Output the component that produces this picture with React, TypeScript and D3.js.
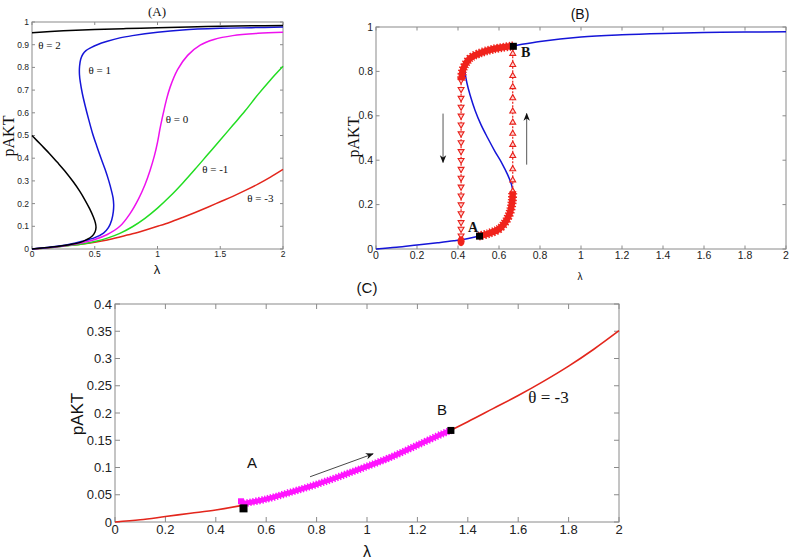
import React, { useEffect, useRef } from 'react';
import * as d3 from 'd3';

type Pt = [number, number];

// ---- panel A: pAKT vs lambda for several theta ----
const thetaTwoUpper: Pt[] = [[0, 0.953], [0.25, 0.961], [0.5, 0.967], [0.75, 0.971], [1, 0.975], [1.25, 0.978], [1.5, 0.981], [1.75, 0.983], [2, 0.985]];
const thetaTwoLower: Pt[] = [[0, 0.5], [0.07, 0.46], [0.14, 0.42], [0.2, 0.383], [0.26, 0.345], [0.33, 0.295], [0.38, 0.255], [0.42, 0.218], [0.46, 0.177], [0.49, 0.14], [0.505, 0.115], [0.51, 0.095], [0.502, 0.075], [0.478, 0.056], [0.435, 0.041], [0.38, 0.028], [0.3, 0.019], [0.2, 0.011], [0.1, 0.005], [0, 0]];
const thetaOne: Pt[] = [[0, 0], [0.1, 0.005], [0.2, 0.012], [0.3, 0.021], [0.4, 0.034], [0.5, 0.05], [0.57, 0.07], [0.61, 0.095], [0.635, 0.128], [0.648, 0.165], [0.651, 0.195], [0.646, 0.225], [0.634, 0.255], [0.612, 0.3], [0.583, 0.35], [0.55, 0.4], [0.515, 0.455], [0.482, 0.51], [0.452, 0.57], [0.424, 0.63], [0.401, 0.685], [0.385, 0.735], [0.378, 0.77], [0.379, 0.805], [0.388, 0.836], [0.405, 0.858], [0.43, 0.874], [0.47, 0.887], [0.52, 0.9], [0.6, 0.915], [0.7, 0.93], [0.8, 0.94], [1, 0.955], [1.2, 0.965], [1.5, 0.972], [1.75, 0.975], [2, 0.978]];
const thetaZero: Pt[] = [[0, 0], [0.1, 0.004], [0.2, 0.01], [0.3, 0.018], [0.4, 0.028], [0.5, 0.042], [0.6, 0.064], [0.7, 0.1], [0.78, 0.155], [0.85, 0.222], [0.9, 0.283], [0.94, 0.345], [0.975, 0.41], [1.0, 0.47], [1.02, 0.53], [1.045, 0.595], [1.07, 0.655], [1.1, 0.712], [1.16, 0.79], [1.24, 0.853], [1.34, 0.898], [1.45, 0.923], [1.6, 0.94], [1.8, 0.95], [2, 0.955]];
const thetaMinusOne: Pt[] = [[0, 0], [0.2, 0.009], [0.4, 0.022], [0.5, 0.033], [0.6, 0.048], [0.7, 0.069], [0.8, 0.098], [0.9, 0.135], [1.0, 0.18], [1.1, 0.232], [1.2, 0.29], [1.3, 0.352], [1.4, 0.416], [1.5, 0.48], [1.6, 0.545], [1.7, 0.61], [1.8, 0.68], [1.9, 0.745], [2, 0.805]];
const thetaMinusThree: Pt[] = [[0, 0], [0.1, 0.004], [0.2, 0.01], [0.3, 0.016], [0.4, 0.022], [0.5, 0.03], [0.6, 0.04], [0.7, 0.053], [0.8, 0.067], [0.9, 0.083], [1.0, 0.1], [1.1, 0.118], [1.2, 0.139], [1.3, 0.161], [1.4, 0.184], [1.5, 0.208], [1.6, 0.232], [1.7, 0.258], [1.8, 0.286], [1.9, 0.317], [2.0, 0.351]];

// ---- panel B: hysteresis on the theta = 1 curve ----
const bCurve: Pt[] = [[0, 0], [0.1, 0.008], [0.2, 0.018], [0.3, 0.028], [0.38, 0.037], [0.45, 0.047], [0.5, 0.058], [0.55, 0.07], [0.6, 0.09], [0.63, 0.12], [0.655, 0.16], [0.667, 0.205], [0.669, 0.25], [0.661, 0.29], [0.642, 0.335], [0.615, 0.385], [0.58, 0.44], [0.545, 0.5], [0.512, 0.56], [0.483, 0.625], [0.46, 0.69], [0.443, 0.75], [0.435, 0.795], [0.437, 0.83], [0.46, 0.86], [0.5, 0.88], [0.57, 0.9], [0.67, 0.915], [0.8, 0.935], [1.0, 0.955], [1.2, 0.965], [1.4, 0.971], [1.6, 0.975], [1.8, 0.977], [2.0, 0.979]];
const forwardSweep: Pt[] = [[0.5, 0.058], [0.55, 0.07], [0.6, 0.09], [0.63, 0.12], [0.652, 0.16], [0.664, 0.21], [0.667, 0.26]];
const backwardSweep: Pt[] = [[0.67, 0.915], [0.57, 0.9], [0.5, 0.88], [0.46, 0.86], [0.435, 0.83], [0.422, 0.8], [0.417, 0.76]];
const jumpUpLambda = 0.667;
const jumpUpLevels = [0.26, 0.31, 0.36, 0.42, 0.47, 0.52, 0.57, 0.62, 0.68, 0.73, 0.78, 0.83, 0.88];
const jumpDownLambda = 0.415;
const jumpDownLevels = [0.76, 0.72, 0.68, 0.64, 0.6, 0.56, 0.52, 0.48, 0.44, 0.4, 0.36, 0.32, 0.28, 0.24, 0.2, 0.16, 0.12, 0.09, 0.06];
const bPoints: { name: string; p: Pt }[] = [{ name: 'A', p: [0.505, 0.058] }, { name: 'B', p: [0.67, 0.913] }];

// ---- panel C: theta = -3 ----
const cSweep: Pt[] = [[0.5, 0.033], [0.6, 0.042], [0.7, 0.055], [0.8, 0.069], [0.9, 0.085], [1.0, 0.102], [1.1, 0.12], [1.2, 0.141], [1.3, 0.162], [1.333, 0.168]];
const cPoints: { name: string; p: Pt }[] = [{ name: 'A', p: [0.51, 0.025] }, { name: 'B', p: [1.333, 0.168] }];

// ticks
const aXTicks = [0, 0.5, 1, 1.5, 2];
const aYTicks = [0, 0.1, 0.2, 0.3, 0.4, 0.5, 0.6, 0.7, 0.8, 0.9, 1];
const bXTicks = [0, 0.2, 0.4, 0.6, 0.8, 1, 1.2, 1.4, 1.6, 1.8, 2];
const bYTicks = [0, 0.2, 0.4, 0.6, 0.8, 1];
const cXTicks = [0, 0.2, 0.4, 0.6, 0.8, 1, 1.2, 1.4, 1.6, 1.8, 2];
const cYTicks = [0, 0.05, 0.1, 0.15, 0.2, 0.25, 0.3, 0.35, 0.4];

const AXIS = '#8a8a8a';
const SANS = 'Liberation Sans, Arial, sans-serif';
const SERIF = 'Liberation Serif, Times New Roman, serif';

type G = d3.Selection<SVGGElement, unknown, null, undefined>;

function frame(g: G, x: d3.ScaleLinear<number, number>, y: d3.ScaleLinear<number, number>, xt: number[], yt: number[], tick: number, font: number) {
  const [x0, x1] = x.range();
  const [yb, yt0] = y.range();
  g.append('rect').attr('x', x0).attr('y', yt0).attr('width', x1 - x0).attr('height', yb - yt0)
    .attr('fill', 'none').attr('stroke', AXIS).attr('stroke-width', 1);
  xt.forEach(t => {
    const px = x(t);
    g.append('line').attr('x1', px).attr('x2', px).attr('y1', yb).attr('y2', yb - tick).attr('stroke', AXIS);
    g.append('line').attr('x1', px).attr('x2', px).attr('y1', yt0).attr('y2', yt0 + tick).attr('stroke', AXIS);
    g.append('text').attr('x', px).attr('y', yb + font * 0.95).attr('text-anchor', 'middle')
      .style('font-family', SANS).style('font-size', `${font}px`).style('fill', '#222').text(String(t));
  });
  yt.forEach(t => {
    const py = y(t);
    g.append('line').attr('x1', x0).attr('x2', x0 + tick).attr('y1', py).attr('y2', py).attr('stroke', AXIS);
    g.append('line').attr('x1', x1).attr('x2', x1 - tick).attr('y1', py).attr('y2', py).attr('stroke', AXIS);
    g.append('text').attr('x', x0 - 3).attr('y', py).attr('dy', '0.35em').attr('text-anchor', 'end')
      .style('font-family', SANS).style('font-size', `${font}px`).style('fill', '#222').text(String(t));
  });
}

function text(g: G, x: number, y: number, s: string, size: number, family: string, opts: { rotate?: boolean; bold?: boolean } = {}) {
  const t = g.append('text').attr('text-anchor', 'middle').attr('dy', '0.35em')
    .style('font-family', family).style('font-size', `${size}px`).style('fill', '#111').text(s);
  if (opts.bold) t.style('font-weight', 'bold');
  if (opts.rotate) t.attr('transform', `translate(${x},${y}) rotate(-90)`);
  else t.attr('x', x).attr('y', y);
  return t;
}

// thick marker trail: a solid stroke plus a dashed halo so the edges look toothed
function band(g: G, path: string, color: string, w: number) {
  g.append('path').attr('d', path).attr('fill', 'none').attr('stroke', color).attr('stroke-width', w)
    .attr('stroke-linejoin', 'round');
  g.append('path').attr('d', path).attr('fill', 'none').attr('stroke', color).attr('stroke-width', w + 2.5)
    .attr('stroke-dasharray', '1.4 1.6');
}

const App = () => {
  const ref = useRef<SVGSVGElement>(null);

  useEffect(() => {
    if (!ref.current) return;
    const svg = d3.select(ref.current);
    svg.selectAll('*').remove();

    const defs = svg.append('defs');
    defs.append('marker').attr('id', 'arrowHead').attr('viewBox', '0 0 10 10').attr('refX', 9).attr('refY', 5)
      .attr('markerWidth', 8).attr('markerHeight', 8).attr('markerUnits', 'userSpaceOnUse').attr('orient', 'auto')
      .append('path').attr('d', 'M0,1 L10,5 L0,9 L3,5 Z').attr('fill', '#111');

    const root = svg.append('g') as unknown as G;

    // ===== Panel A =====
    const ax = d3.scaleLinear().domain([0, 2]).range([32, 283]);
    const ay = d3.scaleLinear().domain([0, 1]).range([249, 22]);
    const aLine = d3.line<Pt>().x(d => ax(d[0])).y(d => ay(d[1])).curve(d3.curveCatmullRom.alpha(0.5));
    frame(root, ax, ay, aXTicks, aYTicks, 3, 8.5);
    const aSeries: { pts: Pt[]; color: string }[] = [
      { pts: thetaMinusThree, color: '#e3261c' },
      { pts: thetaMinusOne, color: '#22dd22' },
      { pts: thetaZero, color: '#ee11ee' },
      { pts: thetaOne, color: '#1515d8' },
      { pts: thetaTwoLower, color: '#000' },
      { pts: thetaTwoUpper, color: '#000' },
    ];
    aSeries.forEach(s => {
      root.append('path').attr('d', aLine(s.pts)).attr('fill', 'none').attr('stroke', s.color).attr('stroke-width', 1.5);
    });
    const aLabels: { s: string; p: Pt }[] = [
      { s: 'θ = 2', p: [0.14, 0.9] }, { s: 'θ = 1', p: [0.54, 0.79] }, { s: 'θ = 0', p: [1.155, 0.573] },
      { s: 'θ = -1', p: [1.46, 0.35] }, { s: 'θ = -3', p: [1.82, 0.225] },
    ];
    aLabels.forEach(l => text(root, ax(l.p[0]), ay(l.p[1]), l.s, 11, SERIF));
    text(root, 157, 11, '(A)', 13, SERIF);
    text(root, 157, 269, 'λ', 13, SANS);
    text(root, 8, 136, 'pAKT', 16, SERIF, { rotate: true });

    // ===== Panel B =====
    const bx = d3.scaleLinear().domain([0, 2]).range([376, 786]);
    const by = d3.scaleLinear().domain([0, 1]).range([249, 27]);
    const bLine = d3.line<Pt>().x(d => bx(d[0])).y(d => by(d[1])).curve(d3.curveCatmullRom.alpha(0.5));
    frame(root, bx, by, bXTicks, bYTicks, 3.5, 10.5);
    root.append('path').attr('d', bLine(bCurve)).attr('fill', 'none').attr('stroke', '#1515d8').attr('stroke-width', 1.5);

    // dotted jumps
    const drawJump = (lam: number, levels: number[], down: boolean) => {
      const lo = d3.min(levels)!, hi = d3.max(levels)!;
      root.append('line').attr('x1', bx(lam)).attr('x2', bx(lam)).attr('y1', by(lo)).attr('y2', by(hi))
        .attr('stroke', '#e8201a').attr('stroke-width', 1.2).attr('stroke-dasharray', '2 1.5');
      const sym = d3.symbol(d3.symbolTriangle, 15);
      levels.forEach(v => {
        root.append('path').attr('d', sym()).attr('transform', `translate(${bx(lam)},${by(v)}) rotate(${down ? 180 : 0})`)
          .attr('fill', '#ffd6d4').attr('stroke', '#e8201a').attr('stroke-width', 1.1);
      });
    };
    drawJump(jumpDownLambda, jumpDownLevels, true);
    drawJump(jumpUpLambda, jumpUpLevels, false);
    band(root, bLine(forwardSweep)!, '#f0231c', 6.5);
    band(root, bLine(backwardSweep)!, '#f0231c', 6.5);
    // cluster at bottom of the downward jump
    root.append('ellipse').attr('cx', bx(jumpDownLambda)).attr('cy', by(0.035)).attr('rx', 3.5).attr('ry', 5).attr('fill', '#f0231c');
    bPoints.forEach(pt => {
      root.append('rect').attr('x', bx(pt.p[0]) - 3.5).attr('y', by(pt.p[1]) - 3.5).attr('width', 7).attr('height', 7).attr('fill', '#000');
    });
    text(root, bx(0.473), by(0.1), 'A', 14, SERIF, { bold: true });
    text(root, bx(0.73), by(0.887), 'B', 14, SERIF, { bold: true });
    const arrow = (x1: number, y1: number, x2: number, y2: number, c = '#444') => {
      root.append('line').attr('x1', x1).attr('y1', y1).attr('x2', x2).attr('y2', y2)
        .attr('stroke', c).attr('stroke-width', 0.9).attr('marker-end', 'url(#arrowHead)');
    };
    arrow(bx(0.327), by(0.61), bx(0.327), by(0.39));
    arrow(bx(0.735), by(0.38), bx(0.735), by(0.61));
    text(root, 580, 14, '(B)', 14, SANS);
    text(root, 580, 276, 'λ', 10, SANS);
    text(root, 353, 137, 'pAKT', 16, SERIF, { rotate: true });

    // ===== Panel C =====
    const cx = d3.scaleLinear().domain([0, 2]).range([115, 619]);
    const cy = d3.scaleLinear().domain([0, 0.4]).range([522, 304]);
    const cLine = d3.line<Pt>().x(d => cx(d[0])).y(d => cy(d[1])).curve(d3.curveCatmullRom.alpha(0.5));
    frame(root, cx, cy, cXTicks, cYTicks, 5, 13);
    root.append('path').attr('d', cLine(thetaMinusThree)).attr('fill', 'none').attr('stroke', '#e3261c').attr('stroke-width', 1.6);
    band(root, cLine(cSweep)!, '#ff14ff', 5);
    root.append('rect').attr('x', cx(0.5) - 3).attr('y', cy(0.038) - 3).attr('width', 6).attr('height', 6).attr('fill', '#ff14ff');
    cPoints.forEach((pt, i) => {
      const s = i === 0 ? 8 : 7;
      root.append('rect').attr('x', cx(pt.p[0]) - s / 2).attr('y', cy(pt.p[1]) - s / 2).attr('width', s).attr('height', s).attr('fill', '#000');
    });
    text(root, cx(0.544), cy(0.108), 'A', 15, SANS);
    text(root, cx(1.298), cy(0.206), 'B', 15, SANS);
    text(root, cx(1.72), cy(0.229), 'θ = -3', 17, SERIF);
    arrow(cx(0.774), cy(0.083), cx(1.024), cy(0.125), '#333');
    text(root, 367, 288, '(C)', 15, SANS);
    text(root, 367, 551, 'λ', 16, SANS);
    text(root, 77, 414, 'pAKT', 17, SANS, { rotate: true });
  }, []);

  return <svg ref={ref} width={792} height={559} style={{ position: 'absolute', left: 0, top: 0, background: '#fff' }} />;
};

export default App;
